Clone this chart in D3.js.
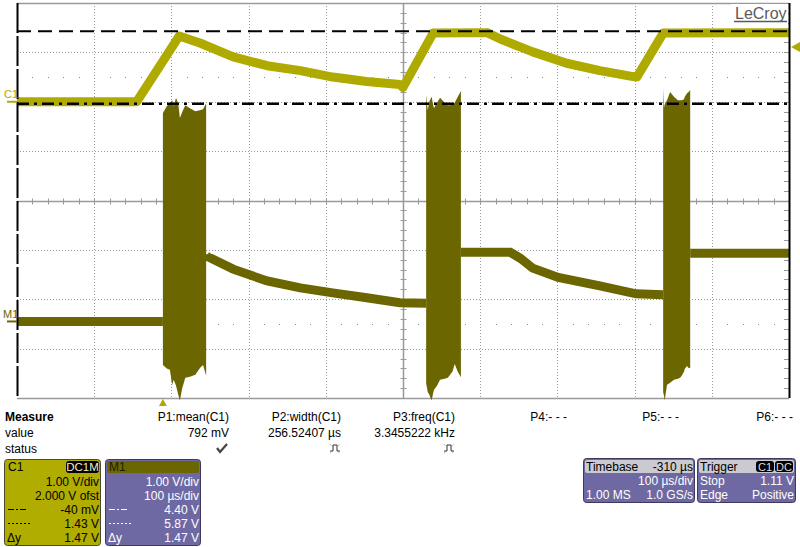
<!DOCTYPE html>
<html><head><meta charset="utf-8">
<script src="https://cdn.jsdelivr.net/npm/d3@7"></script>
<style>
body{margin:0;background:#fff;}
svg{display:block;font-family:"Liberation Sans",Arial,sans-serif;}
</style></head><body>
<svg id="c" width="800" height="547"></svg>
<script>
// ---------- data (time in µs from left edge, volts) ----------
const c1Time = [0, 155, 210, 237, 280, 324, 367, 409, 453, 496, 500, 539, 609, 626, 668, 712, 755, 798, 803, 837, 1000];
const c1Volt = [0.0, 0.0, 1.33, 1.19, 0.91, 0.73, 0.63, 0.50, 0.41, 0.35, 0.29, 1.39, 1.40, 1.27, 1.01, 0.78, 0.63, 0.51, 0.50, 1.39, 1.40];

const m1SegATime = [0, 189];
const m1SegAVolt = [0.0, 0.0];
const m1SegBTime = [245, 246, 280, 324, 367, 409, 453, 496, 530];
const m1SegBVolt = [1.36, 1.32, 1.06, 0.82, 0.68, 0.58, 0.48, 0.38, 0.37];
const m1SegCTime = [575, 639, 652, 668, 701, 755, 802, 837];
const m1SegCVolt = [1.40, 1.40, 1.28, 1.08, 0.89, 0.72, 0.56, 0.54];
const m1SegDTime = [872, 1000];
const m1SegDVolt = [1.38, 1.38];

const burst1Time = [189, 194, 198, 201, 203, 206, 209, 211, 214, 218, 224, 231, 237, 241, 245];
const burst1Hi = [4.22, 4.36, 4.42, 4.48, 4.36, 4.53, 4.40, 4.12, 4.24, 4.38, 4.32, 4.26, 4.28, 4.30, 4.42];
const burst1Lo = [-0.88, -0.95, -0.98, -1.28, -1.18, -1.30, -1.49, -1.60, -1.35, -1.14, -1.12, -1.08, -0.94, -0.88, -1.10];
const burst2Time = [530, 532, 534, 537, 540, 544, 548, 554, 558, 561, 564, 567, 571, 575];
const burst2Hi = [4.59, 4.28, 4.45, 4.55, 4.32, 4.43, 4.53, 4.43, 4.38, 4.38, 4.40, 4.43, 4.55, 4.67];
const burst2Lo = [-1.25, -1.43, -1.48, -1.60, -1.39, -1.30, -1.18, -1.16, -1.14, -1.08, -1.02, -0.86, -1.02, -1.13];
const burst3Time = [837, 838, 839, 842, 846, 851, 856, 859, 861, 864, 865, 868, 870, 872];
const burst3Hi = [4.73, 4.32, 4.40, 4.48, 4.65, 4.55, 4.48, 4.48, 4.48, 4.50, 4.55, 4.62, 4.65, 4.69];
const burst3Lo = [-1.43, -1.50, -1.60, -1.28, -1.24, -1.18, -1.16, -1.14, -1.10, -1.02, -0.96, -0.90, -0.94, -0.94];

const cursorC1Volts = [-0.04, 1.43];
const triggerLevel = 1.11;
const triggerTime = 189;

const measLabels = ["P1:mean(C1)", "P2:width(C1)", "P3:freq(C1)", "P4:- - -", "P5:- - -", "P6:- - -"];
const measValues = ["792 mV", "256.52407 µs", "3.3455222 kHz", "", "", ""];
const measStatus = ["check", "pulse", "pulse", "", "", ""];

const c1BoxRows = ["1.00 V/div", "2.000 V ofst", "-40 mV", "1.43 V", "1.47 V"];
const m1BoxRows = ["1.00 V/div", "100 µs/div", "4.40 V", "5.87 V", "1.47 V"];

// ---------- setup ----------
const svg = d3.select("#c");
const L = 17, R = 789, T = 3, B = 398;
const x = d3.scaleLinear().domain([0, 1000]).range([L, R]);
const yC1 = d3.scaleLinear().domain([-6, 2]).range([B, T]);
const yM1 = d3.scaleLinear().domain([-1.55, 6.45]).range([B, T]);

const YEL = "#aeaa00", OLV = "#6b6600", PUR = "#6e69a2", GRID = "#9a9a9a";

svg.append("rect").attr("width", 800).attr("height", 547).attr("fill", "#fff");

svg.append("defs").append("clipPath").attr("id", "clip")
  .append("rect").attr("x", L).attr("y", T).attr("width", R - L).attr("height", B - T + 4);

const grid = svg.append("g");
grid.selectAll("line.v").data(d3.range(100, 1000, 100).filter(d => d !== 500)).join("line")
  .attr("x1", d => Math.round(x(d)) + 0.5).attr("x2", d => Math.round(x(d)) + 0.5)
  .attr("y1", T).attr("y2", B).attr("stroke", GRID).attr("stroke-dasharray", "1,2");
grid.selectAll("line.h").data([1, 0, -1, -3, -4, -5]).join("line")
  .attr("y1", d => Math.round(yC1(d)) + 0.5).attr("y2", d => Math.round(yC1(d)) + 0.5)
  .attr("x1", L).attr("x2", R).attr("stroke", GRID).attr("stroke-dasharray", "1,2");
[0.5, -4.5].forEach(v => {
  grid.selectAll(null).data(d3.range(20, 1000, 20).filter(d => d % 100 !== 0)).join("rect")
    .attr("x", d => Math.round(x(d))).attr("y", Math.round(yC1(v)))
    .attr("width", 1).attr("height", 1).attr("fill", "#888");
});
[2, -6].forEach(v => grid.append("line").attr("x1", L).attr("x2", R)
  .attr("y1", Math.round(yC1(v)) + 0.5).attr("y2", Math.round(yC1(v)) + 0.5).attr("stroke", GRID).attr("stroke-width", 1.5));
const cy = Math.round(yC1(-2)) + 0.5;
grid.append("line").attr("x1", L).attr("x2", R).attr("y1", cy).attr("y2", cy).attr("stroke", GRID).attr("stroke-width", 1.5);
grid.selectAll(null).data(d3.range(20, 1000, 20)).join("line")
  .attr("x1", d => Math.round(x(d)) + 0.5).attr("x2", d => Math.round(x(d)) + 0.5)
  .attr("y1", cy - 3).attr("y2", cy + 3).attr("stroke", GRID);
const cx = Math.round(x(500)) + 0.5;
grid.append("line").attr("x1", cx).attr("x2", cx).attr("y1", T).attr("y2", B).attr("stroke", GRID).attr("stroke-width", 1.5);
grid.selectAll(null).data(d3.range(-5.8, 2, 0.2)).join("line")
  .attr("y1", d => Math.round(yC1(d)) + 0.5).attr("y2", d => Math.round(yC1(d)) + 0.5)
  .attr("x1", cx - 3).attr("x2", cx + 3).attr("stroke", GRID);
grid.selectAll(null).data(d3.range(-5.8, 2, 0.2)).join("line")
  .attr("y1", d => Math.round(yC1(d)) + 0.5).attr("y2", d => Math.round(yC1(d)) + 0.5)
  .attr("x1", R - 5).attr("x2", R).attr("stroke", GRID);

// ---------- traces ----------
const tr = svg.append("g").attr("clip-path", "url(#clip)");
const area = d3.area().x(d => x(d[0])).y0(d => yM1(d[2])).y1(d => yM1(d[1])).curve(d3.curveLinear);
[[burst1Time, burst1Hi, burst1Lo], [burst2Time, burst2Hi, burst2Lo], [burst3Time, burst3Hi, burst3Lo]].forEach(([t, h, l]) => {
  const pts = t.map((d, i) => [d, h[i], l[i]]);
  tr.append("path").attr("d", area(pts)).attr("fill", OLV).attr("stroke", "none");
});
const lineM = d3.line().x(d => x(d[0])).y(d => yM1(d[1]));
[[m1SegATime, m1SegAVolt], [m1SegBTime, m1SegBVolt], [m1SegCTime, m1SegCVolt], [m1SegDTime, m1SegDVolt]].forEach(([t, v]) => {
  tr.append("path").attr("d", lineM(t.map((d, i) => [d, v[i]]))).attr("fill", "none")
    .attr("stroke", OLV).attr("stroke-width", 9);
});
const lineC = d3.line().x(d => x(d[0])).y(d => yC1(d[1]));
tr.append("path").attr("d", lineC(c1Time.map((d, i) => [d, c1Volt[i]]))).attr("fill", "none")
  .attr("stroke", YEL).attr("stroke-width", 9).attr("stroke-linejoin", "round");

// ---------- cursors ----------
svg.append("line").attr("x1", L).attr("x2", R).attr("y1", yC1(cursorC1Volts[0])).attr("y2", yC1(cursorC1Volts[0]))
  .attr("stroke", "#000").attr("stroke-width", 2.5).attr("stroke-dasharray", "12,5,3,5");
svg.append("line").attr("x1", L).attr("x2", R).attr("y1", yC1(cursorC1Volts[1])).attr("y2", yC1(cursorC1Volts[1]))
  .attr("stroke", "#000").attr("stroke-width", 2).attr("stroke-dasharray", "14,7");
svg.append("line").attr("x1", L + 0.5).attr("x2", L + 0.5).attr("y1", T).attr("y2", B)
  .attr("stroke", "#000").attr("stroke-width", 2).attr("stroke-dasharray", "30,3");
svg.append("line").attr("x1", R + 0.5).attr("x2", R + 0.5).attr("y1", T).attr("y2", B)
  .attr("stroke", "#000").attr("stroke-width", 2);

// ---------- markers ----------
svg.append("text").attr("x", 4).attr("y", 98).attr("fill", YEL).attr("font-size", 11).text("C1");
svg.append("line").attr("x1", 7).attr("x2", L).attr("y1", yC1(0)).attr("y2", yC1(0)).attr("stroke", YEL).attr("stroke-width", 2);
svg.append("text").attr("x", 3).attr("y", 318).attr("fill", OLV).attr("font-size", 11).text("M1");
svg.append("line").attr("x1", 7).attr("x2", L).attr("y1", yM1(0)).attr("y2", yM1(0)).attr("stroke", OLV).attr("stroke-width", 2);
const ty = yC1(triggerLevel);
svg.append("path").attr("d", `M${R + 2},${ty} L800,${ty - 5} L800,${ty + 5} Z`).attr("fill", YEL);
const tx = x(triggerTime);
svg.append("path").attr("d", `M${tx},${B + 1} L${tx - 4},${B + 8} L${tx + 4},${B + 8} Z`).attr("fill", YEL);

svg.append("rect").attr("x", 731).attr("y", 4).attr("width", 57).attr("height", 21).attr("fill", "#fff");
svg.append("text").attr("x", 735).attr("y", 19).attr("font-size", 16).attr("fill", "#5a5a5a").text("LeCroy");
svg.append("line").attr("x1", 734).attr("x2", 787).attr("y1", 21.5).attr("y2", 21.5).attr("stroke", "#5a5a5a").attr("stroke-width", 1.5);

// ---------- measure panel ----------
const fs = 12;
svg.append("text").attr("x", 5).attr("y", 421).attr("font-size", fs).attr("font-weight", "bold").text("Measure");
svg.append("text").attr("x", 5).attr("y", 437).attr("font-size", fs).text("value");
svg.append("text").attr("x", 5).attr("y", 453).attr("font-size", fs).text("status");
const colX = [229, 341, 455, 567, 679, 793];
measLabels.forEach((s, i) => svg.append("text").attr("x", colX[i]).attr("y", 421).attr("font-size", fs).attr("text-anchor", "end").text(s));
measValues.forEach((s, i) => svg.append("text").attr("x", colX[i]).attr("y", 437).attr("font-size", fs).attr("text-anchor", "end").text(s));
measStatus.forEach((s, i) => {
  const ex = colX[i];
  if (s === "check") {
    svg.append("path").attr("d", `M${ex - 12},${448} L${ex - 9},${452} L${ex - 2},${444}`).attr("fill", "none")
      .attr("stroke", "#444").attr("stroke-width", 2.2);
  } else if (s === "pulse") {
    svg.append("path").attr("d", `M${ex - 11},${451} L${ex - 8},${451} L${ex - 8},${445} L${ex - 4},${445} L${ex - 4},${451} L${ex - 1},${451}`)
      .attr("fill", "none").attr("stroke", "#333").attr("stroke-width", 1);
    svg.append("path").attr("d", `M${ex - 11},${444} L${ex - 9},${446} M${ex - 3},${446} L${ex - 1},${444} M${ex - 11},${453} L${ex - 9},${452} M${ex - 3},${452} L${ex - 1},${453}`)
      .attr("fill", "none").attr("stroke", "#888").attr("stroke-width", 0.8).attr("stroke-dasharray", "1,1");
  }
});

// ---------- channel boxes ----------
const rowY = [486, 500, 514, 528, 542];
function chanBox(x0, w, fill, stroke, headFill, title, titleColor, rows, textColor, badge) {
  const g = svg.append("g");
  g.append("rect").attr("x", x0 + 0.5).attr("y", 459.5).attr("width", w).attr("height", 86).attr("rx", 3)
    .attr("fill", fill).attr("stroke", stroke);
  if (headFill) g.append("rect").attr("x", x0 + 2).attr("y", 461).attr("width", w - 3).attr("height", 12).attr("rx", 2).attr("fill", headFill);
  g.append("text").attr("x", x0 + 4).attr("y", 471).attr("font-size", fs).attr("fill", titleColor).text(title);
  if (badge) {
    g.append("rect").attr("x", x0 + w - 34).attr("y", 461).attr("width", 33).attr("height", 12).attr("rx", 3).attr("fill", "#000");
    g.append("text").attr("x", x0 + w - 17.5).attr("y", 471).attr("font-size", 11.5).attr("text-anchor", "middle").attr("fill", "#eeeed0").text(badge);
  }
  rows.forEach((s, i) => g.append("text").attr("x", x0 + w - 1).attr("y", rowY[i]).attr("font-size", fs)
    .attr("text-anchor", "end").attr("fill", textColor).text(s));
  g.append("line").attr("x1", x0 + 4).attr("x2", x0 + 24).attr("y1", 509.5).attr("y2", 509.5)
    .attr("stroke", textColor).attr("stroke-width", 1).attr("stroke-dasharray", "6,2,2,2");
  g.append("line").attr("x1", x0 + 4).attr("x2", x0 + 27).attr("y1", 523.5).attr("y2", 523.5)
    .attr("stroke", textColor).attr("stroke-width", 1).attr("stroke-dasharray", "2,2");
  g.append("text").attr("x", x0 + 3).attr("y", 542).attr("font-size", fs).attr("fill", textColor).text("Δy");
}
chanBox(4, 96, "#b0ac00", "#4a4a30", null, "C1", "#000", c1BoxRows, "#000", "DC1M");
chanBox(105, 95, PUR, "#3c3a60", OLV, "M1", "#1e1e00", m1BoxRows, "#fff", null);

// ---------- timebase / trigger ----------
function infoBox(x0, w, headL, headR, rows, badges) {
  const g = svg.append("g");
  g.append("rect").attr("x", x0 + 0.5).attr("y", 458.5).attr("width", w).attr("height", 44).attr("rx", 3)
    .attr("fill", PUR).attr("stroke", "#3c3a60");
  g.append("rect").attr("x", x0 + 2).attr("y", 460).attr("width", w - 3).attr("height", 13).attr("rx", 2).attr("fill", "#cacad0");
  g.append("text").attr("x", x0 + 3).attr("y", 471).attr("font-size", fs).attr("fill", "#000").text(headL);
  if (headR) g.append("text").attr("x", x0 + w - 1).attr("y", 471).attr("font-size", fs).attr("text-anchor", "end").attr("fill", "#000").text(headR);
  if (badges) {
    let bx = x0 + w - 1;
    badges.slice().reverse().forEach(b => {
      const bw = 19;
      bx -= bw;
      g.append("rect").attr("x", bx).attr("y", 461).attr("width", bw - 1).attr("height", 11).attr("rx", 3).attr("fill", "#000");
      g.append("text").attr("x", bx + (bw - 1) / 2).attr("y", 470.5).attr("font-size", 11).attr("text-anchor", "middle").attr("fill", "#ddd").text(b);
    });
  }
  rows.forEach((r, i) => {
    const yy = 485 + i * 14;
    if (r[0]) g.append("text").attr("x", x0 + 3).attr("y", yy).attr("font-size", fs).attr("fill", "#fff").text(r[0]);
    g.append("text").attr("x", x0 + w - 1).attr("y", yy).attr("font-size", fs).attr("text-anchor", "end").attr("fill", "#fff").text(r[1]);
  });
}
infoBox(583, 111, "Timebase", "-310 µs", [["", "100 µs/div"], ["1.00 MS", "1.0 GS/s"]], null);
infoBox(697, 98, "Trigger", null, [["Stop", "1.11 V"], ["Edge", "Positive"]], ["C1", "DC"]);
</script>
</body></html>
